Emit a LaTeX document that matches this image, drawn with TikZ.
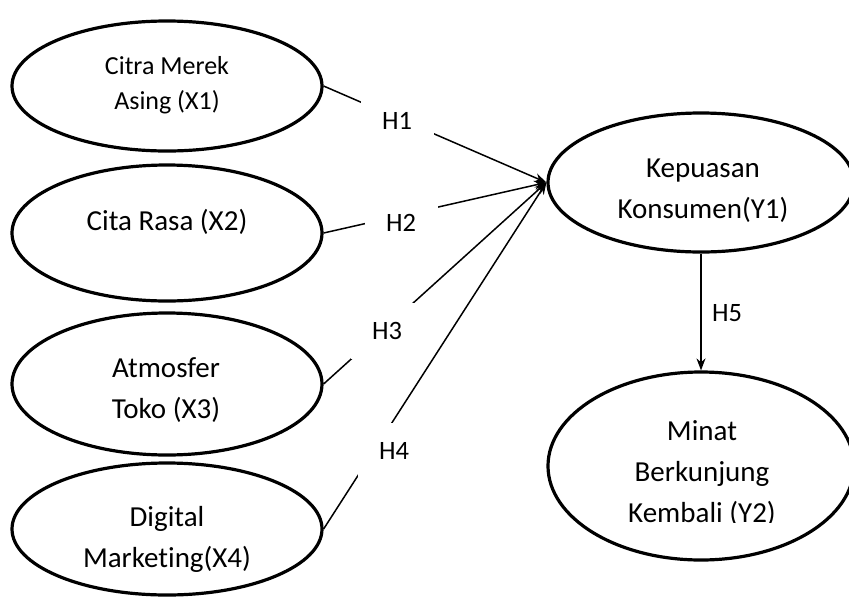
\documentclass[tikz,border=0pt]{standalone}
\usepackage{fontspec}
\setmainfont{Carlito}[Ligatures={NoCommon}]
\usetikzlibrary{shapes.geometric,arrows.meta}
\begin{document}
\begin{tikzpicture}[x=1pt,y=-1pt,
  var/.style={ellipse,draw,line width=3.2pt,inner sep=0pt},
  txt/.style={align=center,font=\fontsize{29}{41}\selectfont,inner sep=0pt},
  hyp/.style={font=\fontsize{26.5}{32}\selectfont,fill=white,minimum width=73pt,minimum height=56pt,inner sep=0pt},
  conn/.style={line width=1.5pt,-{Stealth[length=12pt,width=9pt]}},
]
\fill[white] (0,0) rectangle (849,598);
\useasboundingbox (0,0) rectangle (849,598);
% ellipses
\node[var,minimum width=310pt,minimum height=130pt] (x1) at (167,86) {};
\node[var,minimum width=310pt,minimum height=136pt] (x2) at (167,233) {};
\node[var,minimum width=310pt,minimum height=142pt] (x3) at (167,384) {};
\node[var,minimum width=310pt,minimum height=132pt] (x4) at (167,529) {};
\node[var,minimum width=306pt,minimum height=139pt] (k) at (701,182.5) {};
\node[var,minimum width=306pt,minimum height=188pt] (m) at (701,466) {};
% texts
\node[txt,font=\fontsize{26}{35}\selectfont] (t1) at (167,85) {Citra Merek\\Asing (X1)};
\node[txt] (t2) at (167,222) {Cita Rasa (X2)};
\node[txt] (t3) at (166,390) {Atmosfer\\Toko (X3)};
\node[txt] (t4) at (167,539) {Digital\\Marketing(X4)};
\node[txt] (tk) at (703,191) {Kepuasan\\Konsumen(Y1)};
\begin{scope}
\clip (540,380) rectangle (860,522);
\node[txt] (tm) at (702,474) {Minat\\Berkunjung\\Kembali (Y2)};
\end{scope}
% connectors
\draw[conn] (x1.east) -- (k.west);
\draw[conn] (x2.east) -- (k.west);
\draw[conn] (x3.east) -- (k.west);
\draw[conn] (x4.east) -- (k.west);
\draw[conn] (k.south) -- (m.north);
% hypothesis labels
\node[hyp] (h1) at (397,121) {H1};
\node[hyp] (h2) at (401,223) {H2};
\node[hyp] (h3) at (387,331) {H3};
\node[hyp] (h4) at (394,451) {H4};
\node[font=\fontsize{26.5}{32}\selectfont,inner sep=0pt] (h5) at (727,313) {H5};
\end{tikzpicture}
\end{document}
